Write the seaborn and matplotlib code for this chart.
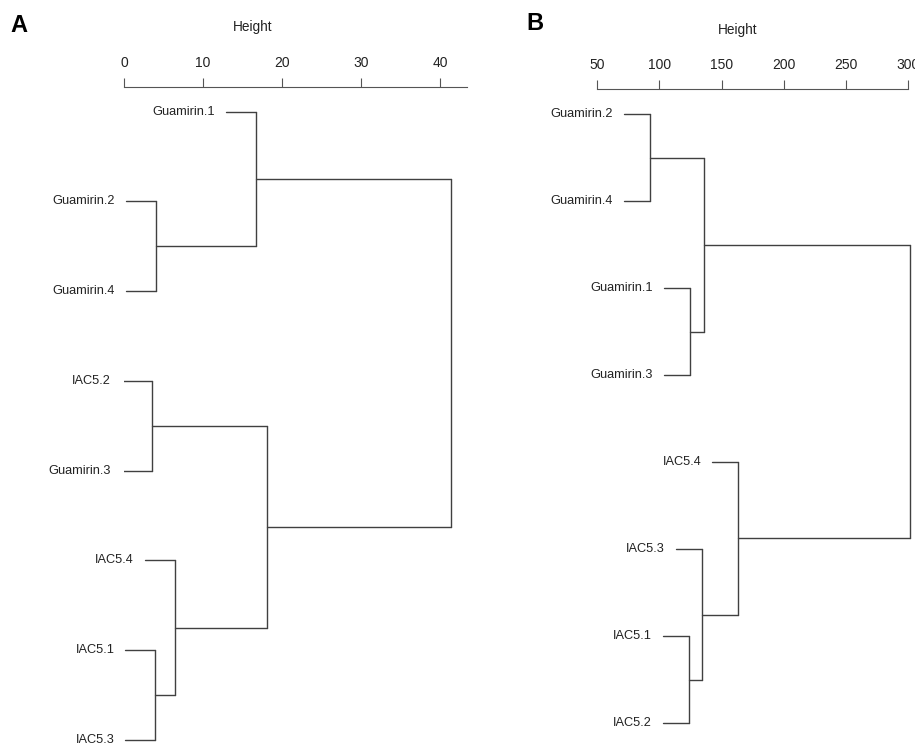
import numpy as np
import pandas as pd
import matplotlib.pyplot as plt
import seaborn as sns

# Panel A: leaves top to bottom, merges (negative = leaf number, positive = earlier merge)
leaves_a = ["Guamirin.1", "Guamirin.2", "Guamirin.4", "IAC5.2",
            "Guamirin.3", "IAC5.4", "IAC5.1", "IAC5.3"]
merge_a = [(-2, -3), (-4, -5), (-7, -8), (-1, 1), (-6, 3), (2, 5), (4, 6)]
height_a = [4.05, 3.54, 3.97, 16.7, 6.46, 18.06, 41.4]
ticks_a = [0, 10, 20, 30, 40]

# Panel B
leaves_b = ["Guamirin.2", "Guamirin.4", "Guamirin.1", "Guamirin.3",
            "IAC5.4", "IAC5.3", "IAC5.1", "IAC5.2"]
merge_b = [(-1, -2), (-3, -4), (-7, -8), (1, 2), (-6, 3), (-5, 5), (4, 6)]
height_b = [92.4, 124.5, 124.0, 136.0, 134.2, 163.4, 301.4]
ticks_b = [50, 100, 150, 200, 250, 300]


def dendro_segments(merge, height):
    # R plot.hclust style: leaves hang by 10% of the height range
    hang = 0.1 * (max(height) - min(height))
    ypos = {}
    rows = []
    leaf_start = {}
    seg = 0
    for k, (a, b) in enumerate(merge, start=1):
        h = height[k - 1]
        ys = []
        for c in (a, b):
            if c < 0:
                y = -c
                x0 = h - hang
                leaf_start[-c] = x0
            else:
                y = ypos[c]
                x0 = height[c - 1]
            rows += [(seg, x0, y), (seg, h, y)]
            seg += 1
            ys.append(y)
        rows += [(seg, h, ys[0]), (seg, h, ys[1])]
        seg += 1
        ypos[k] = np.mean(ys)
    df = pd.DataFrame(rows, columns=["seg", "x", "y"])
    return df, leaf_start


sns.set_style("white")
plt.rcParams["font.family"] = ["Liberation Sans", "DejaVu Sans"]

fig = plt.figure(figsize=(9.15, 7.45), dpi=100)
W, H = 915, 745

panels = [
    # leaves, merge, heights, ticks, axes px (left, right, top), xlim, ylim, spine, label x, letter
    (leaves_a, merge_a, height_a, ticks_a, (124, 467, 87), (0, 43.4),
     (8.056, 0.725), (0, 43.4), 0.376, "A", (19, 26)),
    (leaves_b, merge_b, height_b, ticks_b, (597.3, 915, 89), (50, 305.5),
     (8.249, 0.713), (50, 300), 0.443, "B", (535, 24)),
]

for (leaves, merge, height, ticks, px, xlim, ylim, bounds, lx, letter, lpos) in panels:
    left, right, top = px
    ax = fig.add_axes([left / W, 0, (right - left) / W, (H - top) / H])
    df, leaf_start = dendro_segments(merge, height)
    sns.lineplot(data=df, x="x", y="y", units="seg", estimator=None, sort=False,
                 color="#404040", lw=1.0, legend=False, ax=ax)
    for i, name in enumerate(leaves, start=1):
        ax.annotate(name, (leaf_start[i], i), xytext=(-8, 0), textcoords="offset points",
                    ha="right", va="center", fontsize=9.2, color="#222222",
                    annotation_clip=False)
    ax.set_xlim(*xlim)
    ax.set_ylim(*ylim)
    ax.set_yticks([])
    ax.set_ylabel("")
    ax.xaxis.tick_top()
    ax.xaxis.set_label_position("top")
    ax.set_xticks(ticks)
    ax.set_xticklabels([str(t) for t in ticks])
    ax.tick_params(axis="x", direction="out", length=6.5, width=0.8, pad=6,
                   labelsize=10, colors="#555555", labelcolor="#222222")
    ax.set_xlabel("Height", fontsize=9.8, color="#222222")
    ax.xaxis.set_label_coords(lx, 1 + (top - (27 if letter == "A" else 30)) / (H - top))
    ax.xaxis.label.set_va("center")
    for s in ["left", "right", "bottom"]:
        ax.spines[s].set_visible(False)
    ax.spines["top"].set_bounds(*bounds)
    ax.spines["top"].set_color("#555555")
    ax.spines["top"].set_linewidth(0.8)
    ax.set_facecolor("none")
    fig.text(lpos[0] / W, 1 - lpos[1] / H, letter, fontsize=17, fontweight="bold",
             ha="center", va="center", color="black")

fig.savefig("out.png", dpi=100, facecolor="white")
